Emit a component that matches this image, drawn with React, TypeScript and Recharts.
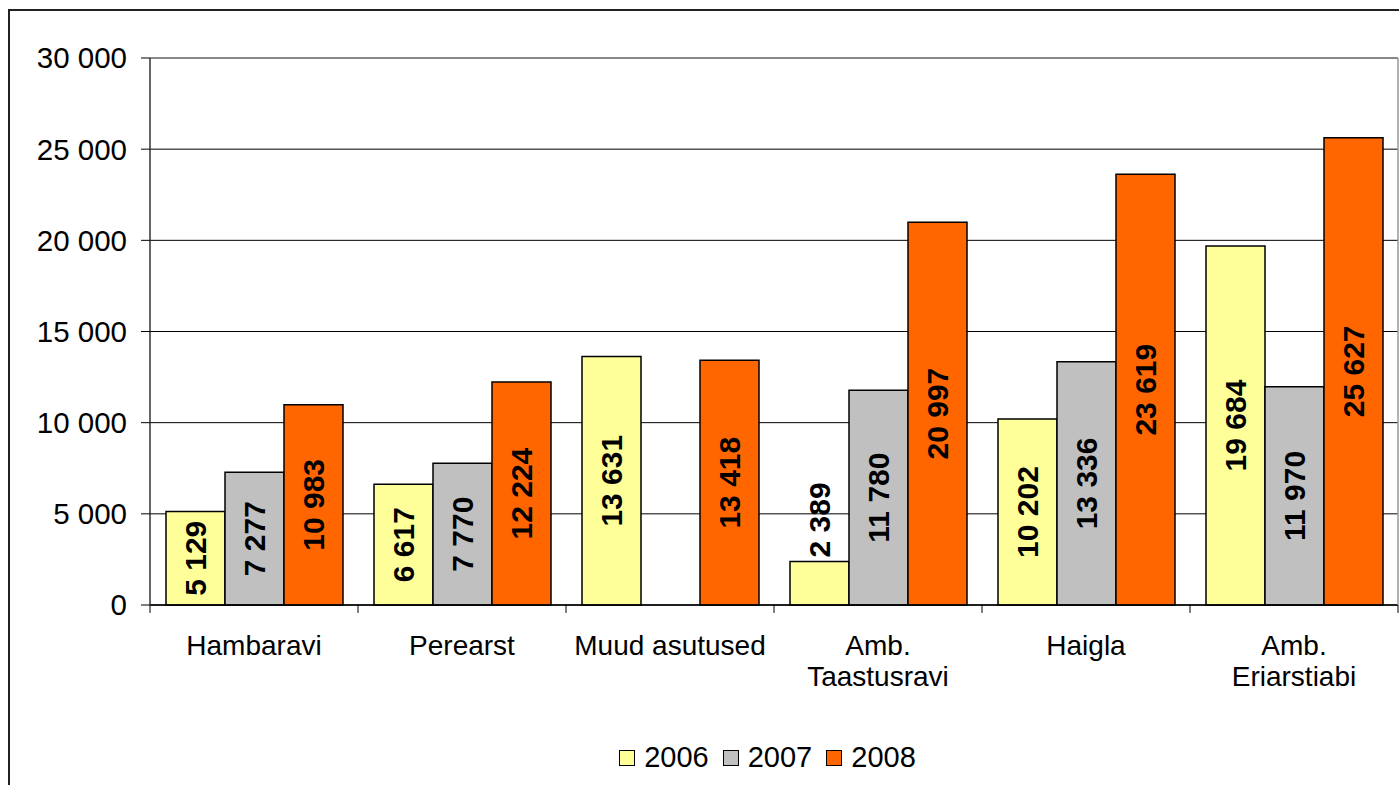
import { BarChart, Bar, XAxis, YAxis, CartesianGrid, Legend, LabelList, ReferenceLine } from "recharts";

const categories = ["Hambaravi", "Perearst", "Muud asutused", "Amb.\nTaastusravi", "Haigla", "Amb.\nEriarstiabi"];
const v2006 = [5129, 6617, 13631, 2389, 10202, 19684];
const v2007: (number | null)[] = [7277, 7770, null, 11780, 13336, 11970];
const v2008 = [10983, 12224, 13418, 20997, 23619, 25627];
const yTicks = [0, 5000, 10000, 15000, 20000, 25000, 30000];

const SERIES = [
  { key: "y2006", name: "2006", color: "#FFFF99" },
  { key: "y2007", name: "2007", color: "#C0C0C0" },
  { key: "y2008", name: "2008", color: "#FF6600" },
];

const FONT = "'Liberation Sans', Arial, sans-serif";

const data = categories.map((c, i) => ({
  cat: c,
  y2006: v2006[i],
  y2007: v2007[i],
  y2008: v2008[i],
}));

const fmt = (v: number) => String(v).replace(/\B(?=(\d{3})+(?!\d))/g, " ");

function BarValue(props: any) {
  const { x, y, width, height, value } = props;
  if (value == null) return null;
  const s = fmt(value);
  const fs = 30;
  const len = fs * (s.replace(/ /g, "").length * 0.556 + (s.split(" ").length - 1) * 0.278);
  const cx = x + width / 2;
  // too short to hold the label: put it above the bar
  const cy = len + 10 > height ? y - 4 - len / 2 : y + height / 2;
  return (
    <text
      x={cx} y={cy}
      transform={`rotate(-90, ${cx}, ${cy})`}
      textAnchor="middle" dominantBaseline="central"
      style={{ fontFamily: FONT, fontSize: fs, fontWeight: "bold", fill: "#000" }}
    >
      {s}
    </text>
  );
}

function CatTick(props: any) {
  const { x, y, payload, index, width, visibleTicksCount } = props;
  const band = width && visibleTicksCount ? width / visibleTicksCount : 208;
  const lines = String(payload.value).split("\n");
  return (
    <g>
      <line x1={x - band / 2} x2={x - band / 2} y1={y} y2={y + 8} stroke="#000" strokeWidth={1} />
      {index === categories.length - 1 && (
        <line x1={x + band / 2} x2={x + band / 2} y1={y} y2={y + 8} stroke="#000" strokeWidth={1} />
      )}
      {lines.map((l, i) => (
        <text key={i} x={x} y={y + 50 + i * 31} textAnchor="middle"
          style={{ fontFamily: FONT, fontSize: 28, fill: "#000" }}>
          {l}
        </text>
      ))}
    </g>
  );
}

function LegendBox() {
  return (
    <div style={{ display: "flex", justifyContent: "center", alignItems: "center", paddingLeft: 150, paddingTop: 4, fontFamily: FONT, fontSize: 29, color: "#000" }}>
      {SERIES.map(s => (
        <div key={s.key} style={{ display: "flex", alignItems: "center", marginRight: 14 }}>
          <span style={{ width: 14, height: 14, background: s.color, border: "1.5px solid #000", marginRight: 9, display: "inline-block" }} />
          <span>{s.name}</span>
        </div>
      ))}
    </div>
  );
}

export default function App() {
  return (
    <div style={{ position: "absolute", left: 0, top: 0, width: 1399, height: 785, background: "#fff", overflow: "hidden" }}>
      <div style={{ position: "absolute", left: 8, top: 9, width: 1400, height: 790, borderLeft: "2px solid #222", borderTop: "2px solid #222" }} />
      <BarChart
        width={1399} height={785} data={data}
        margin={{ top: 58, right: 0, left: 0, bottom: 8 }}
        barCategoryGap={16} barGap={0}
      >
        <CartesianGrid stroke="#000" vertical={false} />
        <ReferenceLine y={30000} stroke="#888" strokeWidth={2} />
        <XAxis
          dataKey="cat" interval={0} height={132}
          tick={<CatTick />} tickLine={false} tickSize={0} tickMargin={0}
          axisLine={{ stroke: "#000", strokeWidth: 1.5 }}
        />
        <YAxis
          width={150} domain={[0, 30000]} ticks={yTicks} tickFormatter={fmt}
          tickSize={9} tickMargin={14}
          tick={{ fill: "#000", fontSize: 29.5, fontFamily: FONT }}
          tickLine={{ stroke: "#000" }}
          axisLine={{ stroke: "#333", strokeWidth: 1.5 }}
        />
        <YAxis
          yAxisId="right" orientation="right" width={1} domain={[0, 30000]}
          tick={false} tickLine={false} axisLine={{ stroke: "#999", strokeWidth: 1.5 }}
        />
        <Legend verticalAlign="bottom" height={40} content={<LegendBox />} wrapperStyle={{ left: 0, width: 1399 }} />
        {SERIES.map(s => (
          <Bar key={s.key} dataKey={s.key} name={s.name} fill={s.color} stroke="#000" strokeWidth={1.5} isAnimationActive={false}>
            <LabelList dataKey={s.key} content={<BarValue />} />
          </Bar>
        ))}
      </BarChart>
    </div>
  );
}
